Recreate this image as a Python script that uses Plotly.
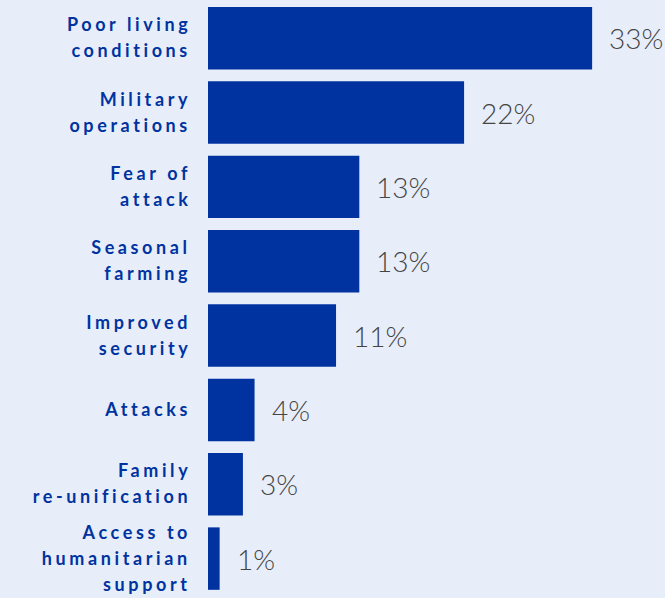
import json
import plotly.graph_objects as go

categories = [
    "Poor living<br>conditions",
    "Military<br>operations",
    "Fear of<br>attack",
    "Seasonal<br>farming",
    "Improved<br>security",
    "Attacks",
    "Family<br>re-unification",
    "Access to<br>humanitarian<br>support",
]
values = [33, 22, 13, 13, 11, 4, 3, 1]
value_labels = [f"{v}%" for v in values]

BAR = "#0033a0"
BG = "#e7eefa"
VAL = "#454545"
LINE_GAP = 26

fig = go.Figure(
    go.Bar(
        x=values,
        y=categories,
        orientation="h",
        marker=dict(color=BAR, line=dict(width=0)),
        hoverinfo="skip",
    )
)

annotations = []
for cat, v, lab in zip(categories, values, value_labels):
    annotations.append(dict(
        x=v, y=cat, xref="x", yref="y", text=lab, showarrow=False,
        xanchor="left", yanchor="middle", xshift=15,
        font=dict(family="Lato", size=28, color=VAL, weight=300),
    ))

label_lines = []
for cat in categories:
    lines = cat.split("<br>")
    n = len(lines)
    for i, line in enumerate(lines):
        label_lines.append(line)
        annotations.append(dict(
            x=0, y=cat, xref="paper", yref="y", text=line, showarrow=False,
            xanchor="right", yanchor="middle", xshift=-15, align="right",
            yshift=((n - 1) / 2 - i) * LINE_GAP + 1,
            font=dict(family="Lato", size=18, color=BAR, weight=700),
        ))

fig.update_layout(
    width=665, height=598,
    margin=dict(l=208, r=0, t=1, b=0),
    paper_bgcolor=BG, plot_bgcolor=BG,
    bargap=0.16,
    showlegend=False,
    xaxis=dict(range=[0, 39.26], visible=False),
    yaxis=dict(range=[len(categories) - 0.47, -0.5], showticklabels=False,
               showgrid=False, zeroline=False, ticks=""),
    annotations=annotations,
)

post = """
var labs = %s;
function ls(){
  document.querySelectorAll('text.annotation-text').forEach(function(el){
    if (labs.indexOf(el.textContent) >= 0 && !el.getAttribute('data-ls')) {
      var b0 = el.getBBox();
      var r0 = b0.x + b0.width;
      el.style.letterSpacing = '3.6px';
      var b1 = el.getBBox();
      var r1 = b1.x + b1.width;
      var x = parseFloat(el.getAttribute('x')) || 0;
      el.setAttribute('x', x - (r1 - r0));
      el.setAttribute('data-ls', '1');
    }
  });
}
ls();
var gd = document.getElementById('{plot_id}');
if (gd && gd.on) { gd.on('plotly_afterplot', ls); }
""" % json.dumps(label_lines)

fig.write_html("out.html", post_script=post)
